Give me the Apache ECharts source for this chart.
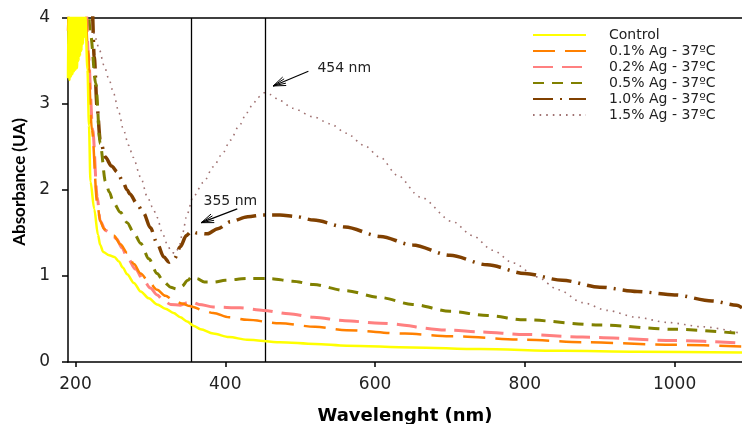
<!DOCTYPE html>
<html>
<head>
<meta charset="utf-8">
<script src="https://cdn.jsdelivr.net/npm/echarts@6/dist/echarts.min.js"></script>
<style>
  html, body { margin: 0; padding: 0; background: #fff; }
  #chart { width: 742px; height: 424px; }
</style>
</head>
<body>
<div id="chart"></div>
<script>
// UV-Vis absorbance spectra: [wavelength (nm), absorbance (UA)]
const seriesNames = ['Control', '0.1% Ag - 37ºC', '0.2% Ag - 37ºC', '0.5% Ag - 37ºC', '1.0% Ag - 37ºC', '1.5% Ag - 37ºC'];

const control = [
  [190,3.30],[191,4.30],[192,3.28],[193,4.30],[194,3.32],[195,4.30],[196,3.35],[197,4.30],
  [198,3.38],[199,4.30],[200,3.40],[201,4.30],[202,3.42],[203,4.30],[204,3.50],[205,4.30],
  [206,3.56],[207,4.30],[208,3.62],[209,4.30],[210,3.70],[211,4.30],[212,3.78],[213,4.05],
  [216,3.40],[218,2.75],[220,2.10],[225,1.78],[230,1.48],[233,1.36],[237,1.28],[245,1.24],
  [252,1.22],[258,1.17],[263,1.10],[269,1.02],[278,0.92],[287,0.82],[298,0.74],[309,0.67],
  [320,0.62],[331,0.57],[340,0.52],[349,0.47],[358,0.42],[367,0.38],[384,0.33],[405,0.29],
  [429,0.26],[473,0.23],[520,0.21],[562,0.19],[650,0.17],[740,0.15],[850,0.13],[950,0.12],
  [1090,0.11]
];
const ag01 = [
  [190,3.85],[192,4.20],[213,4.20],[216,3.70],[222,2.70],[229,1.85],[233,1.64],[238,1.55],
  [243,1.50],[251,1.47],[260,1.37],[269,1.27],[278,1.14],[287,1.03],[298,0.93],[309,0.84],
  [320,0.77],[331,0.72],[342,0.68],[353,0.65],[357,0.64],[370,0.60],[384,0.57],[405,0.52],
  [429,0.49],[473,0.45],[520,0.41],[562,0.37],[640,0.33],[700,0.30],[800,0.26],[877,0.23],
  [1000,0.20],[1090,0.18]
];
const ag02 = [
  [190,4.20],[214,4.20],[217,3.60],[223,2.70],[229,1.92],[233,1.64],[240,1.53],[247,1.50],
  [255,1.43],[262,1.33],[269,1.22],[280,1.08],[291,0.95],[300,0.86],[309,0.78],[318,0.71],
  [327,0.67],[340,0.66],[350,0.69],[355,0.70],[365,0.67],[384,0.64],[420,0.63],[451,0.60],
  [485,0.56],[518,0.52],[560,0.48],[607,0.45],[700,0.37],[740,0.35],[800,0.32],[877,0.29],
  [1000,0.25],[1090,0.22]
];
const ag05 = [
  [190,4.20],[216,4.20],[220,3.82],[227,3.24],[233,2.54],[240,2.10],[245,1.98],[251,1.85],
  [260,1.74],[269,1.62],[278,1.50],[287,1.38],[298,1.20],[309,1.03],[318,0.93],[327,0.87],
  [335,0.85],[342,0.88],[350,0.95],[355,0.99],[362,0.97],[372,0.93],[385,0.93],[400,0.95],
  [429,0.97],[460,0.97],[490,0.94],[518,0.90],[560,0.83],[607,0.75],[650,0.67],[700,0.59],
  [750,0.54],[800,0.49],[900,0.43],[1000,0.38],[1090,0.33]
];
const ag10 = [
  [190,4.20],[222,4.20],[225,3.55],[229,2.95],[233,2.58],[240,2.38],[248,2.28],[256,2.21],
  [263,2.10],[269,2.00],[273,1.95],[282,1.84],[291,1.73],[300,1.56],[309,1.38],[318,1.22],
  [325,1.16],[332,1.20],[340,1.34],[348,1.47],[355,1.52],[362,1.50],[376,1.49],[390,1.55],
  [407,1.63],[430,1.69],[451,1.71],[473,1.71],[495,1.69],[518,1.65],[560,1.57],[607,1.46],
  [650,1.36],[700,1.24],[750,1.13],[800,1.03],[850,0.95],[900,0.87],[950,0.82],[1000,0.78],
  [1050,0.71],[1083,0.66],[1090,0.63]
];
const ag15 = [
  [190,4.20],[218,4.20],[222,3.95],[226,3.78],[232,3.63],[238,3.45],[245,3.28],[251,3.12],
  [258,2.90],[264,2.70],[271,2.52],[277,2.38],[287,2.15],[296,1.92],[303,1.80],[309,1.68],
  [316,1.50],[322,1.38],[328,1.28],[333,1.26],[338,1.33],[343,1.50],[349,1.72],[357,1.92],
  [371,2.09],[384,2.27],[396,2.42],[407,2.58],[418,2.74],[429,2.90],[437,3.00],[444,3.08],
  [452,3.13],[460,3.11],[473,3.04],[490,2.95],[518,2.85],[540,2.77],[562,2.66],[585,2.52],
  [607,2.38],[630,2.17],[660,1.92],[704,1.63],[730,1.47],[757,1.30],[785,1.15],[816,0.99],
  [845,0.84],[877,0.69],[910,0.60],[949,0.52],[990,0.46],[1037,0.41],[1090,0.33]
];

const xTicks = [200, 400, 600, 800, 1000];
const peakLines = [355, 454];
const peakLabels = ['355 nm', '454 nm'];

const spectra = [control, ag01, ag02, ag05, ag10, ag15];
const styles = [
  { color: '#FFFF00', width: 2.5, type: 'solid' },
  { color: '#FF8000', width: 2.5, type: [22, 10] },
  { color: '#FF8080', width: 3, type: [20, 9] },
  { color: '#808000', width: 3, type: [11, 8] },
  { color: '#804000', width: 3.5, type: [20, 7, 2, 7] },
  { color: '#A07272', width: 1.6, type: [1.6, 5] }
];

const chart = echarts.init(document.getElementById('chart'), null, { renderer: 'canvas' });

const series = spectra.map((data, i) => ({
  name: seriesNames[i],
  type: 'line',
  data: data,
  symbol: 'none',
  showSymbol: false,
  smooth: 0.3,
  smoothMonotone: 'x',
  clip: true,
  z: 2 + (5 - i),
  lineStyle: { color: styles[i].color, width: styles[i].width, type: styles[i].type, cap: 'butt' },
  itemStyle: { color: styles[i].color },
  emphasis: { disabled: true }
}));

// vertical reference lines at the band maxima
series[0].markLine = {
  silent: true,
  symbol: ['none', 'none'],
  label: { show: false },
  lineStyle: { color: '#000', type: 'solid', width: 1.3 },
  data: peakLines.map(v => ({ xAxis: v }))
};

const option = {
  animation: false,
  backgroundColor: '#fff',
  grid: { left: 68, top: 18, right: 0, bottom: 62, containLabel: false, outerBoundsMode: 'none' },
  legend: {
    data: seriesNames,
    orient: 'vertical',
    left: 532,
    top: 28,
    padding: 0,
    itemWidth: 53,
    itemHeight: 14,
    itemGap: 2,
    itemStyle: { opacity: 0 },
    textStyle: { fontFamily: 'DejaVu Sans', fontSize: 14, color: '#222', padding: [0, 0, 0, 18] }
  },
  xAxis: [{
    type: 'value',
    min: 190,
    max: 1090,
    name: 'Wavelenght (nm)',
    nameLocation: 'middle',
    nameGap: 45,
    nameTextStyle: { fontFamily: 'DejaVu Sans', fontWeight: 'bold', fontSize: 18, color: '#000' },
    axisLine: { show: true, lineStyle: { color: '#000', width: 1.5 } },
    axisTick: { show: true, customValues: xTicks, length: 5, lineStyle: { color: '#000', width: 1.5 } },
    axisLabel: { customValues: xTicks, formatter: v => String(v), fontFamily: 'DejaVu Sans', fontSize: 17, color: '#222', margin: 14 },
    splitLine: { show: false }
  }, {
    type: 'value',
    position: 'top',
    min: 190,
    max: 1090,
    axisLine: { show: true, onZero: false, lineStyle: { color: '#000', width: 1.5 } },
    axisTick: { show: false },
    axisLabel: { show: false },
    splitLine: { show: false }
  }],
  yAxis: {
    type: 'value',
    min: 0,
    max: 4,
    interval: 1,
    name: 'Absorbance (UA)',
    nameLocation: 'middle',
    nameGap: 40,
    nameTextStyle: { fontFamily: 'Lato', fontWeight: 'bold', fontSize: 17, color: '#000', padding: [0, 0, 0, 16] },
    axisLine: { show: true, lineStyle: { color: '#000', width: 1.5 } },
    axisTick: { show: true, length: 6, lineStyle: { color: '#000', width: 1.5 } },
    axisLabel: { fontFamily: 'DejaVu Sans', fontSize: 17, color: '#222', margin: 18 },
    splitLine: { show: false }
  },
  series: series
};

chart.setOption(option);

// annotation arrows pointing at the two absorption bands (data coordinates)
const arrows = [
  { text: peakLabels[0], tip: [368, 1.62], tail: [416, 1.78], label: [371, 1.87] },
  { text: peakLabels[1], tip: [464, 3.21], tail: [511, 3.38], label: [523, 3.42] }
];

const toPx = p => chart.convertToPixel({ xAxisIndex: 0, yAxisIndex: 0 }, p);
const elements = [];
arrows.forEach(a => {
  const tip = toPx(a.tip), tail = toPx(a.tail), lab = toPx(a.label);
  const ang = Math.atan2(tail[1] - tip[1], tail[0] - tip[0]);
  elements.push({
    type: 'line', silent: true, z: 20,
    shape: { x1: tail[0], y1: tail[1], x2: tip[0], y2: tip[1] },
    style: { stroke: '#000', lineWidth: 1.2 }
  });
  [-0.36, -0.18, 0.18, 0.36].forEach(d => {
    const len = 13;
    elements.push({
      type: 'line', silent: true, z: 20,
      shape: { x1: tip[0], y1: tip[1], x2: tip[0] + len * Math.cos(ang + d), y2: tip[1] + len * Math.sin(ang + d) },
      style: { stroke: '#000', lineWidth: 1 }
    });
  });
  elements.push({
    type: 'text', silent: true, z: 20,
    x: lab[0], y: lab[1],
    style: { text: a.text, fill: '#222', font: '14px "DejaVu Sans"', align: 'left', verticalAlign: 'middle' }
  });
});
chart.setOption({ graphic: elements });
</script>
</body>
</html>
